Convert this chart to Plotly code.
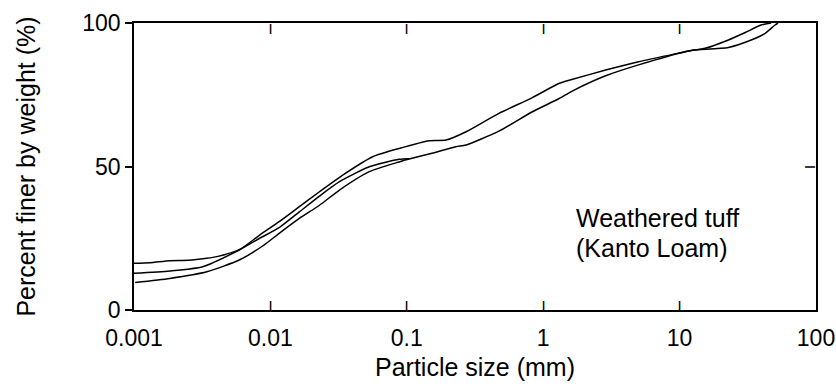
import math
import plotly.graph_objects as go

# Particle size (mm) and percent finer (%) for the three grading curves
size_a = [0.001, 0.00131, 0.00183, 0.00251, 0.0034, 0.00405, 0.00596, 0.00834, 0.01167, 0.0163,
          0.0229, 0.0339, 0.0562, 0.0879, 0.146, 0.194, 0.272, 0.473, 0.826, 1.30,
          1.62, 2.87, 5.0, 11.0, 12.6, 22.8, 33.5, 42.4, 50.1, 52.7]
finer_a = [16.3, 16.5, 17.2, 17.3, 18.0, 18.6, 21.1, 26.1, 30.9, 36.0,
           41.2, 47.0, 53.4, 56.3, 59.0, 59.2, 62.1, 68.5, 73.9, 78.9,
           80.3, 83.6, 86.5, 90.0, 90.6, 91.5, 94.1, 96.4, 99.3, 100.0]

size_b = [0.001, 0.00183, 0.00319, 0.00596, 0.00834, 0.01167, 0.0163, 0.0229, 0.0321, 0.0531,
          0.0879, 0.104]
finer_b = [12.8, 13.6, 15.1, 21.0, 25.0, 28.8, 34.2, 39.7, 44.7, 49.9,
           52.5, 52.7]

size_c = [0.00102, 0.00183, 0.00342, 0.00596, 0.00877, 0.01167, 0.0163, 0.0229, 0.0321, 0.0531,
          0.0879, 0.104, 0.153, 0.229, 0.272, 0.473, 0.826, 1.30, 1.62, 2.87,
          5.0, 11.0, 15.4, 22.8, 30.3, 39.6, 46.9]
finer_c = [9.6, 11.0, 13.3, 17.5, 22.3, 26.8, 31.9, 36.5, 41.8, 48.2,
           51.6, 52.6, 54.6, 56.9, 57.5, 62.3, 69.0, 73.6, 76.2, 81.6,
           85.4, 90.0, 91.2, 94.1, 96.7, 99.3, 100.0]

x_ticks = [0.001, 0.01, 0.1, 1, 10, 100]
x_tick_text = ["0.001", "0.01", "0.1", "1", "10", "100"]
x_inner_ticks = [0.01, 0.1, 1, 10]
y_ticks = [0, 50, 100]
y_right_ticks = [50]
label_lines = ["Weathered tuff", "(Kanto Loam)"]

FONT = "Liberation Sans, Arial, Helvetica, sans-serif"
LW = 1.5
X_RANGE = [-3, 2]
Y_RANGE = [0, 100]
TICK_FONT = dict(family="Liberation Sans", size=11, color="black")
HALF_TICK = 5

fig = go.Figure()
for xs, ys in [(size_a, finer_a), (size_b, finer_b), (size_c, finer_c)]:
    fig.add_trace(go.Scatter(x=xs, y=ys, mode="lines",
                             line=dict(color="black", width=LW, shape="spline", smoothing=0.6),
                             showlegend=False, hoverinfo="skip"))

def xpaper(v):
    return (math.log10(v) - X_RANGE[0]) / (X_RANGE[1] - X_RANGE[0])

def ypaper(v):
    return (v - Y_RANGE[0]) / (Y_RANGE[1] - Y_RANGE[0])

annotations = [dict(text=label_lines[0], xref="paper", yref="paper",
                    x=0.645, y=0.320, xanchor="left", yanchor="middle",
                    showarrow=False, font=dict(size=25)),
               dict(text=label_lines[1], xref="paper", yref="paper",
                    x=0.645, y=0.216, xanchor="left", yanchor="middle",
                    showarrow=False, font=dict(size=25))]

# inside tick marks (bottom, top, right) drawn as short bars
for v in x_inner_ticks:
    for yp, shift in [(0, HALF_TICK), (1, -HALF_TICK)]:
        annotations.append(dict(text="<b>|</b>", xref="paper", yref="paper",
                                x=xpaper(v), y=yp, xanchor="center", yanchor="middle",
                                yshift=shift, showarrow=False, font=TICK_FONT,
                                borderpad=0))
for v in y_right_ticks:
    annotations.append(dict(text="<b>|</b>", xref="paper", yref="paper",
                            x=1, y=ypaper(v), xanchor="center", yanchor="middle",
                            xshift=-HALF_TICK, textangle=90, showarrow=False,
                            font=TICK_FONT, borderpad=0))

fig.update_layout(
    template="none",
    width=836, height=389,
    margin=dict(l=134, r=20, t=23, b=79),
    paper_bgcolor="white", plot_bgcolor="white",
    font=dict(family=FONT, color="black"),
    xaxis=dict(type="log", range=X_RANGE, tickmode="array", tickvals=x_ticks, ticktext=x_tick_text,
               ticks="", showline=True, linecolor="black", linewidth=LW, mirror=True,
               showgrid=False, zeroline=False, ticklabeloverflow="allow", automargin=False,
               tickfont=dict(size=23), ticklabelstandoff=7,
               title=dict(text="Particle size (mm)", font=dict(size=25), standoff=8)),
    yaxis=dict(range=Y_RANGE, tickmode="array", tickvals=y_ticks,
               ticks="outside", ticklen=7, tickwidth=LW, tickcolor="black",
               showline=True, linecolor="black", linewidth=LW, mirror=True,
               automargin=False, showgrid=False, zeroline=False, tickfont=dict(size=23),
               title=dict(text="Percent finer by weight (%)", font=dict(size=25), standoff=40)),
    annotations=annotations,
)

fig.write_html("out.html")
